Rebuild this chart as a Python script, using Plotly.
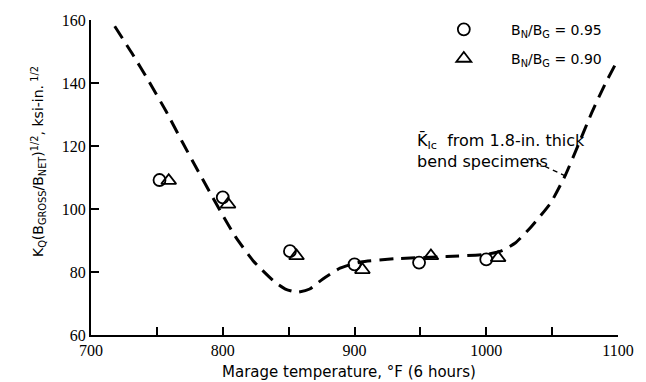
import plotly.graph_objects as go

# Data
circle_T = [752, 800, 851, 900, 949, 1000]
circle_K = [109.2, 103.7, 86.6, 82.4, 83.0, 84.0]
tri_T = [759, 804, 856, 906, 958, 1009]
tri_K = [109.0, 101.5, 85.1, 80.7, 85.1, 84.5]

curve_T = [718, 731, 744, 757, 769, 780, 790, 800, 810, 823, 839, 848, 857, 866, 876,
           889, 905, 930, 970, 1000, 1012, 1022, 1034, 1049, 1060, 1070, 1080, 1090, 1100]
curve_K = [158, 149.5, 140.5, 131, 121.5, 113, 105.5, 98, 91, 83.6, 77, 74.5, 73.6, 74.6, 77.8,
           81.2, 83.2, 84.2, 84.9, 85.6, 86.8, 89.2, 94.3, 102, 110.7, 120.5, 130.5, 139.5, 147.5]

x_tickvals = [700, 750, 800, 850, 900, 950, 1000, 1050, 1100]
x_ticktext = ["700", "", "800", "", "900", "", "1000", "", "1100"]
y_tickvals = [60, 80, 100, 120, 140, 160]

label_T, label_K = 946, 125.5
leader_T = [1032, 1060]
leader_K = [116, 110.5]

SANS = "DejaVu Sans"
SERIF = "Liberation Serif"
PAD = "&nbsp;" * 5

fig = go.Figure()
fig.add_trace(go.Scatter(x=curve_T, y=curve_K, mode="lines", showlegend=False,
                         line=dict(color="black", width=3, dash="14px,8px", shape="spline", smoothing=0.5),
                         hoverinfo="skip"))
fig.add_trace(go.Scatter(x=circle_T, y=circle_K, mode="markers", legendgroup="a",
                         name=PAD + "B<sub>N</sub>/B<sub>G</sub> = 0.95",
                         marker=dict(symbol="circle-open", size=12, color="black", line=dict(width=1.8))))
fig.add_trace(go.Scatter(x=tri_T, y=tri_K, mode="markers", legendgroup="b",
                         name=PAD + "B<sub>N</sub>/B<sub>G</sub> = 0.90",
                         marker=dict(symbol="triangle-up-open", size=13, color="black", line=dict(width=1.8))))
fig.add_trace(go.Scatter(x=leader_T, y=leader_K, mode="lines", showlegend=False,
                         line=dict(color="black", width=1.3, dash="5px,4px"), hoverinfo="skip"))

fig.add_annotation(x=label_T, y=label_K, xref="x", yref="y", xanchor="left", yanchor="top",
                   align="left", showarrow=False,
                   text="K\u0304<sub>Ic</sub>  from 1.8-in. thick<br>bend specimens",
                   font=dict(family=SANS, size=16, color="black"))

# axis titles as annotations
fig.add_annotation(x=-0.10, y=0.55, xref="paper", yref="paper", xanchor="center", yanchor="middle",
                   textangle=-90, showarrow=False,
                   text="K<sub>Q</sub>(B<sub>GROSS</sub>/B<sub>NET</sub>)<sup>1/2</sup>, ksi-in.<sup> 1/2</sup>",
                   font=dict(family=SANS, size=14, color="black"))
fig.add_annotation(x=0.49, y=-0.117, xref="paper", yref="paper", xanchor="center", yanchor="middle",
                   showarrow=False, text="Marage temperature, \u00b0F (6 hours)",
                   font=dict(family=SANS, size=15, color="black"))

fig.update_layout(
    width=646, height=382,
    margin=dict(l=91, r=21, t=18, b=47),
    paper_bgcolor="white", plot_bgcolor="white",
    font=dict(family=SANS, color="black"),
    legend=dict(x=0.66, y=1.02, xanchor="left", yanchor="top", bgcolor="rgba(0,0,0,0)",
                font=dict(family=SANS, size=14), itemwidth=40, tracegroupgap=8),
    xaxis=dict(range=[700, 1100], tickvals=x_tickvals, ticktext=x_ticktext,
               ticks="inside", ticklen=8, tickwidth=2, tickcolor="black",
               showline=True, linewidth=2, linecolor="black", showgrid=False, zeroline=False,
               tickfont=dict(family=SERIF, size=16, color="black")),
    yaxis=dict(range=[60, 160], tickvals=y_tickvals,
               ticks="inside", ticklen=8, tickwidth=2, tickcolor="black",
               showline=True, linewidth=2, linecolor="black", showgrid=False, zeroline=False,
               tickfont=dict(family=SERIF, size=16, color="black")),
)

fig.write_html("out.html", config={"displayModeBar": False},
               post_script="document.body.style.margin='0';")
